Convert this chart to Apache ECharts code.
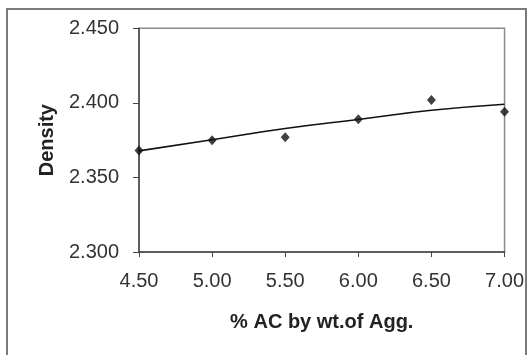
<!DOCTYPE html>
<html>
<head>
<meta charset="utf-8">
<script src="https://cdn.jsdelivr.net/npm/echarts@6/dist/echarts.min.js"></script>
<style>
  html, body { margin: 0; padding: 0; background: #fff; }
  #chart { width: 527px; height: 355px; }
</style>
</head>
<body>
<div id="chart"></div>
<script>
// measured points
const acPercent = [4.5, 5.0, 5.5, 6.0, 6.5, 7.0]
const density = [2.368, 2.375, 2.377, 2.389, 2.402, 2.394]
// trend line
const trendX = [4.5, 5.0, 5.5, 6.0, 6.5, 7.0]
const trendY = [2.3678, 2.3753, 2.3828, 2.3889, 2.3950, 2.3991]

const font = 'Liberation Sans, Arial, sans-serif'

const chart = echarts.init(document.getElementById('chart'), null, { renderer: 'canvas' })

chart.setOption({
  backgroundColor: '#fff',
  animation: false,
  graphic: [{
    type: 'rect',
    shape: { x: 7, y: 9, width: 519, height: 360 },
    style: { fill: 'none', stroke: '#7a7a7a', lineWidth: 2 },
    z: -1
  }],
  grid: {
    left: 139, right: 20.5, top: 28.3, bottom: 103,
    show: true, borderColor: '#8a8a8a', borderWidth: 1.5
  },
  xAxis: {
    type: 'value',
    min: 4.5, max: 7, interval: 0.5,
    name: '% AC by wt.of Agg.',
    nameLocation: 'middle',
    nameGap: 60,
    nameTextStyle: { fontFamily: font, fontSize: 20, fontWeight: 'bold', color: '#222' },
    axisLine: { show: true, lineStyle: { color: '#444', width: 1.5 } },
    axisTick: { show: true, inside: false, length: 5, lineStyle: { color: '#444' } },
    axisLabel: {
      fontFamily: font, fontSize: 20, color: '#333', margin: 19,
      formatter: v => v.toFixed(2)
    },
    splitLine: { show: false }
  },
  yAxis: {
    type: 'value',
    min: 2.3, max: 2.45, interval: 0.05,
    name: 'Density',
    nameLocation: 'middle',
    nameGap: 82,
    nameTextStyle: { fontFamily: font, fontSize: 20, fontWeight: 'bold', color: '#222' },
    axisLine: { show: true, lineStyle: { color: '#444', width: 1.5 } },
    axisTick: { show: true, inside: false, length: 6, lineStyle: { color: '#444' } },
    axisLabel: {
      fontFamily: font, fontSize: 20, color: '#333', margin: 20,
      formatter: v => v.toFixed(3)
    },
    splitLine: { show: false }
  },
  series: [
    {
      type: 'line',
      data: trendX.map((x, i) => [x, trendY[i]]),
      smooth: true,
      showSymbol: false,
      lineStyle: { color: '#111', width: 1.6 },
      z: 2
    },
    {
      type: 'scatter',
      data: acPercent.map((x, i) => [x, density[i]]),
      symbol: 'diamond',
      symbolSize: [9, 10],
      itemStyle: { color: '#111' },
      z: 3
    }
  ]
})
</script>
</body>
</html>
